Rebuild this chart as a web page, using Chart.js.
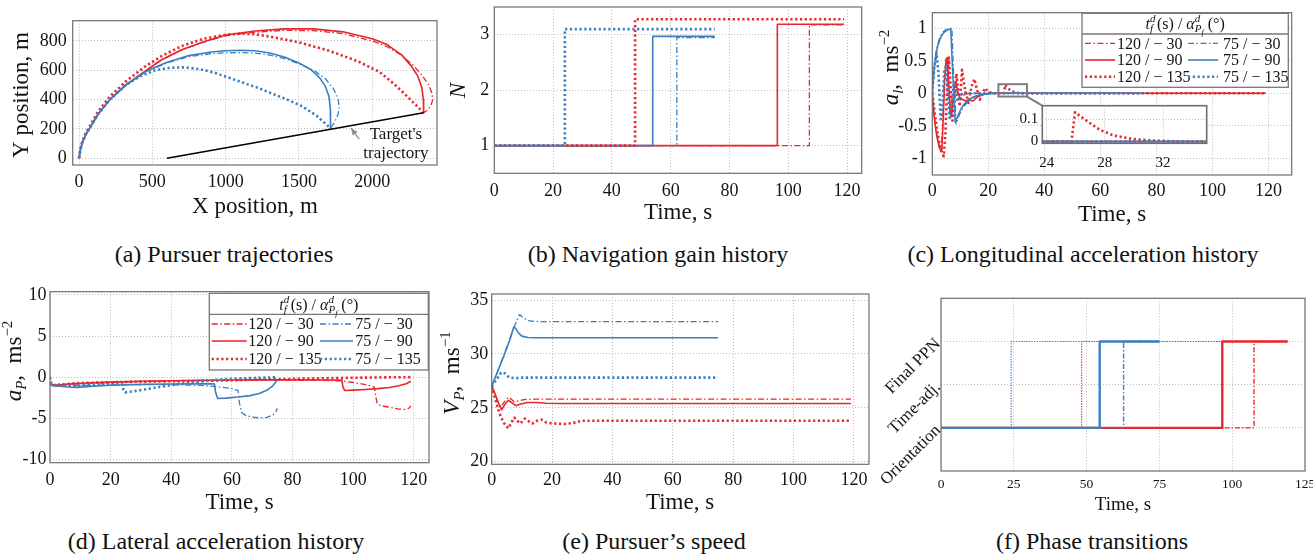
<!DOCTYPE html>
<html><head><meta charset="utf-8">
<script src="https://cdn.jsdelivr.net/npm/chart.js@4.4.1/dist/chart.umd.min.js"></script>
<style>
html,body{margin:0;padding:0;background:#fff;width:1313px;height:556px;overflow:hidden;position:relative;}
canvas{position:absolute;}
.cap{position:absolute;font-family:'Liberation Serif','Times New Roman',serif;font-size:24px;color:#111;white-space:nowrap;transform:translate(-50%,-50%);}
</style></head><body>
<div class="cap" style="left:224px;top:254px">(a) Pursuer trajectories</div>
<div class="cap" style="left:658px;top:254px">(b) Navigation gain history</div>
<div class="cap" style="left:1083px;top:254px">(c) Longitudinal acceleration history</div>
<div class="cap" style="left:216px;top:541px">(d) Lateral acceleration history</div>
<div class="cap" style="left:654px;top:541px">(e) Pursuer’s speed</div>
<div class="cap" style="left:1092px;top:541px">(f) Phase transitions</div>
<script>
// ---------------- labels ----------------
const LBL_R30 = '120 / − 30', LBL_R90 = '120 / − 90', LBL_R135 = '120 / − 135';
const LBL_B30 = '75 / − 30', LBL_B90 = '75 / − 90', LBL_B135 = '75 / − 135';
const PHASES = ['Orientation', 'Time-adj.', 'Final PPN'];

// ---------------- (a) trajectories ----------------
const trajXTicks = [0, 500, 1000, 1500, 2000];
const trajYTicks = [0, 200, 400, 600, 800];
const target = [[600, 0], [2350, 310]];
const trajR30 = [[0,0],[8,50],[20,100],[45,160],[70,200],[130,300],[210,400],[320,500],[460,600],[560,668],[700,738],[850,792],[1000,835],[1200,860],[1400,872],[1600,870],[1800,850],[2000,800],[2100,762],[2200,702],[2280,632],[2340,565],[2385,500],[2408,440],[2410,390],[2395,350],[2375,328],[2350,310]];
const trajR90 = [[0,0],[8,50],[20,100],[45,160],[70,200],[130,300],[210,400],[320,500],[460,600],[560,670],[700,740],[850,795],[1000,840],[1200,868],[1400,882],[1600,882],[1800,862],[2000,815],[2100,775],[2200,705],[2265,630],[2310,560],[2338,480],[2348,400],[2350,340],[2350,310]];
const trajR135 = [[0,0],[8,55],[20,105],[45,170],[70,212],[130,318],[210,420],[320,525],[450,625],[560,695],[700,765],[850,815],[1000,842],[1100,850],[1200,845],[1300,830],[1500,790],[1700,735],[1900,662],[2050,588],[2150,505],[2250,410],[2350,310]];
const trajB30 = [[0,0],[8,50],[20,100],[45,160],[70,200],[130,300],[210,400],[320,500],[460,593],[600,650],[750,693],[900,713],[1000,719],[1100,721],[1200,717],[1300,704],[1400,680],[1500,645],[1600,600],[1680,542],[1735,475],[1765,410],[1775,350],[1765,295],[1742,245],[1715,205]];
const trajB90 = [[0,0],[8,50],[20,100],[45,160],[70,200],[130,300],[210,400],[320,500],[460,595],[600,655],[750,700],[900,725],[1000,733],[1100,737],[1200,733],[1300,718],[1400,690],[1500,650],[1580,605],[1640,550],[1680,490],[1705,420],[1714,330],[1715,205]];
const trajB135 = [[0,0],[8,50],[20,100],[45,160],[70,200],[130,300],[210,400],[320,500],[420,560],[520,600],[620,617],[720,620],[820,608],[920,585],[1020,550],[1120,515],[1220,480],[1320,440],[1420,400],[1520,355],[1620,290],[1715,205]];

// ---------------- (b) navigation gain ----------------
const timeTicks = [0, 20, 40, 60, 80, 100, 120];
const gainTicks = [1, 2, 3];
const gainR30 = [[0,1],[107.2,1],[107.2,3.18],[119,3.18]];
const gainR90 = [[0,1],[96.3,1],[96.3,3.19],[119,3.19]];
const gainR135 = [[0,1],[47.9,1],[47.9,3.28],[119,3.28]];
const gainB30 = [[0,1],[62.1,1],[62.1,2.95],[75,2.95]];
const gainB90 = [[0,1],[53.9,1],[53.9,2.97],[75,2.97]];
const gainB135 = [[0,1],[24.0,1],[24.0,3.1],[75,3.1]];

// ---------------- (c) longitudinal acceleration ----------------
const alTicks = [-1, -0.5, 0, 0.5, 1];
const insetXTicks = [24, 28, 32];
const insetYTicks = [0, 0.1];
const alR30 = [[0,0],[0.5,-0.27],[1,-0.46],[1.5,-0.6],[2,-0.71],[2.5,-0.8],[3,-0.85],[3.3,-0.84],[3.8,-0.35],[4.3,0.2],[4.8,0.45],[5.2,0.48],[5.7,0.1],[6.3,-0.3],[6.8,-0.38],[7.3,-0.1],[7.9,0.1],[8.6,0.12],[9.3,-0.02],[10.2,-0.07],[11.5,-0.02],[13,0],[119,0]];
const alR90 = [[0,0],[0.5,-0.28],[1,-0.48],[1.5,-0.63],[2,-0.74],[2.5,-0.83],[3,-0.88],[3.4,-0.87],[3.9,-0.4],[4.4,0.2],[4.9,0.52],[5.3,0.55],[5.8,0.2],[6.3,-0.2],[6.8,-0.35],[7.3,-0.15],[7.9,0.12],[8.5,0.15],[9.2,0],[10,-0.08],[12,-0.12],[13,-0.1],[14.5,-0.12],[16,-0.06],[18,-0.02],[20,0],[119,0]];
const alR135 = [[0,0],[1,-0.35],[2,-0.65],[3,-0.87],[4.1,-0.97],[4.7,-0.6],[5.3,0.1],[5.9,0.55],[6.4,0.2],[7.2,-0.42],[7.8,-0.2],[8.6,0.3],[9.2,0.05],[9.8,-0.2],[10.6,0.36],[11.5,0.1],[12.9,-0.15],[14,0.1],[15,0.22],[16,0.05],[17,-0.1],[18,0],[18.8,0.08],[20,0.02],[22,0],[25.7,0],[25.95,0.13],[26.8,0.09],[27.66,0.052],[28.6,0.027],[29.9,0.011],[31.3,0.004],[33,0.001],[34,0],[119,0]];
const alB30 = [[0,0],[0.5,0.32],[1,0.53],[1.5,0.67],[2,0.77],[3,0.89],[4,0.95],[5,0.98],[6,0.995],[7,1.0],[7.6,0.3],[8.5,-0.47],[9.3,-0.37],[10.3,-0.27],[11.3,-0.2],[12.3,-0.15],[13.5,-0.1],[15,-0.06],[17,-0.03],[19,-0.013],[22,-0.003],[24,0],[75,0]];
const alB90 = [[0,0],[0.5,0.3],[1,0.5],[1.5,0.64],[2,0.74],[3,0.86],[4,0.93],[5,0.965],[6,0.985],[6.6,0.99],[7.3,0.3],[8.2,-0.45],[9,-0.36],[10,-0.26],[11,-0.19],[12,-0.14],[13,-0.1],[14.5,-0.06],[16,-0.035],[18,-0.017],[20,-0.007],[23,0],[75,0]];
const alB135 = [[0,0],[0.7,0.4],[1.5,0.62],[2.2,0.3],[3,-0.4],[3.6,-0.2],[4.3,0.35],[4.9,0.42],[5.6,-0.05],[6.2,-0.38],[6.9,-0.15],[7.6,0.12],[8.3,0.05],[9,-0.12],[10,-0.05],[11,0.02],[12.5,0],[75,0]];
const zoomBoxX = [23.6, 33.8], zoomBoxY = [-0.05, 0.14];

// ---------------- (d) lateral acceleration ----------------
const apTicks = [-10, -5, 0, 5, 10];
const apR30 = [[0,-0.6],[0.5,-0.95],[2,-1.0],[5,-0.9],[10,-0.78],[20,-0.62],[30,-0.52],[40,-0.45],[50,-0.4],[60,-0.37],[70,-0.36],[80,-0.37],[90,-0.4],[96,-0.45],[100,-0.65],[104,-0.9],[107,-1.2],[107.4,-2.3],[107.9,-3.2],[109,-3.45],[111,-3.6],[113,-3.75],[115,-3.88],[117,-3.92],[118.3,-3.8],[119,-3.5]];
const apR90 = [[0,-0.6],[0.5,-0.95],[2,-1.0],[5,-0.88],[10,-0.75],[20,-0.6],[30,-0.5],[40,-0.43],[50,-0.38],[60,-0.35],[70,-0.33],[80,-0.33],[90,-0.34],[96.3,-0.36],[96.6,-1.2],[97.2,-1.62],[100,-1.58],[104,-1.5],[108,-1.4],[112,-1.25],[115,-1.05],[117.5,-0.8],[119,-0.5]];
const apR135 = [[0,-0.6],[0.5,-0.95],[2,-0.95],[5,-0.85],[10,-0.72],[20,-0.62],[30,-0.55],[40,-0.5],[48,-0.47],[55,-0.42],[65,-0.33],[75,-0.25],[85,-0.17],[95,-0.1],[105,-0.05],[112,-0.02],[119,0]];
const apB30 = [[0,-0.6],[0.5,-1.0],[2,-1.05],[5,-1.05],[10,-1.02],[20,-0.95],[30,-0.9],[40,-0.92],[50,-1.0],[55,-1.15],[60,-1.4],[62,-1.6],[62.5,-3.2],[63.2,-4.3],[64.5,-4.65],[66.5,-4.85],[69,-4.95],[71.5,-4.9],[73.5,-4.6],[74.5,-4.2],[75,-3.8]];
const apB90 = [[0,-0.6],[0.5,-1.0],[3,-1.1],[6,-1.2],[9,-1.25],[12,-1.15],[20,-0.98],[30,-0.88],[40,-0.84],[50,-0.82],[54.2,-0.82],[54.6,-1.8],[55.3,-2.6],[58,-2.55],[62,-2.42],[66,-2.25],[69,-2.0],[71.5,-1.6],[73.5,-1.05],[75,-0.35]];
const apB135 = [[0,0],[0.4,-0.7],[1.5,-0.95],[4,-1.05],[8,-1.05],[12,-0.98],[18,-0.88],[23.8,-0.82],[24.2,-1.5],[24.8,-1.85],[28,-1.7],[32,-1.45],[36,-1.2],[40,-0.97],[45,-0.72],[50,-0.5],[55,-0.33],[60,-0.2],[65,-0.12],[70,-0.06],[75,-0.02]];

// ---------------- (e) pursuer speed ----------------
const vpTicks = [20, 25, 30, 35];
const vpR30 = [[0,27],[1,26.3],[2,25.6],[3,25.05],[4,25.5],[5.5,26.0],[6.5,25.8],[7.5,25.55],[9,25.65],[11,25.78],[14,25.8],[119,25.8]];
const vpR90 = [[0,27],[1,26.4],[2,25.6],[3.3,24.8],[4.3,25.3],[5.5,25.7],[6.5,25.5],[8,25.2],[9.5,25.35],[12,25.5],[15,25.5],[18,25.42],[22,25.4],[119,25.4]];
const vpR135 = [[0,27],[1,26.0],[2,25.0],[3,24.2],[4,23.6],[5.5,23.1],[6.5,23.6],[7.5,24.1],[8.5,23.8],[9.5,23.55],[11,24.0],[12.5,23.7],[13.5,23.55],[15,23.8],[16.5,23.9],[18,23.65],[20,23.55],[24,23.5],[27,23.6],[30,23.8],[119,23.8]];
const vpB30 = [[0,27],[2,28.4],[4,29.9],[6,31.4],[8,32.9],[9.2,33.65],[10.5,33.35],[12,33.1],[14,33.02],[17,33.0],[75,33.0]];
const vpB90 = [[0,27],[2,28.4],[4,29.8],[6,31.3],[7.3,32.5],[8,32.35],[9,31.9],[10,31.65],[12,31.52],[15,31.5],[75,31.5]];
const vpB135 = [[0,27],[1.5,27.6],[3,28.2],[4,28.3],[5,28.0],[6,27.8],[8,27.75],[10,27.8],[75,27.8]];

// ---------------- (f) phase transitions ----------------
const phaseXTicks = [0, 25, 50, 75, 100, 125];
const phaseYTicks = [1, 2, 3];
const phR30 = [[0,1],[107.5,1],[107.5,3],[119,3]];
const phR90 = [[0,1],[96.6,1],[96.6,3],[119,3]];
const phR135 = [[0,1],[48.3,1],[48.3,3],[119,3]];
const phB30 = [[0,1],[62.7,1],[62.7,3],[75,3]];
const phB90 = [[0,1],[54.5,1],[54.5,3],[75,3]];
const phB135 = [[0,1],[24.1,1],[24.1,3],[75,3]];

// ================= rendering =================
const SERIF = "'Liberation Serif','Times New Roman',serif";
const RED = '#e8262b', BLUE = '#3b7fc0', GRID = '#bdbdbd', FRAME = '#6e6e6e', INK = '#141414';
const STY = { dd:{dash:[6,2.5,1.5,2.5], w:1.3}, so:{dash:[], w:1.6}, dt:{dash:[2.2,2.6], w:2.6} };
const STY_F = { dd:{dash:[5,2,1.5,2], w:1.4}, so:{dash:[], w:2.4}, dt:{dash:[1.3,1.3], w:1.2} };

function mk(label, data, color, st) {
  return {label, data, borderColor:color, backgroundColor:color, borderWidth:st.w, borderDash:st.dash,
    borderCapStyle:'butt', borderJoinStyle:'round', pointRadius:0, pointHoverRadius:0, pointHitRadius:0,
    fill:false, tension:0, showLine:true};
}
function six(d, order, S) {
  const defs = {R30:[LBL_R30,RED,S.dd], R90:[LBL_R90,RED,S.so], R135:[LBL_R135,RED,S.dt],
                B30:[LBL_B30,BLUE,S.dd], B90:[LBL_B90,BLUE,S.so], B135:[LBL_B135,BLUE,S.dt]};
  return order.map(k => mk(defs[k][0], d[k], defs[k][1], defs[k][2]));
}
function axis(min, max, ticks, size, pad, extra) {
  const o = {
    type:'linear', min, max,
    afterBuildTicks: s => { s.ticks = ticks.map(v => ({value:v})); },
    grid:{color:GRID, lineWidth:1, drawTicks:false},
    border:{display:false, dash:[1,2]},
    ticks:{color:INK, font:{family:SERIF, size}, padding:pad, autoSkip:false, maxRotation:0, minRotation:0,
           callback: v => String(v)}
  };
  if (extra) { Object.assign(o.ticks, extra); }
  return o;
}
function fontOf(s) { return (s.it ? 'italic ' : '') + s.sz + 'px ' + SERIF; }
function drawRich(c, segs, x, y, rot) {
  c.save(); c.translate(x, y); c.rotate(rot || 0);
  let w = 0;
  segs.forEach(s => { c.font = fontOf(s); if (!s.back) w += c.measureText(s.t).width; });
  let cx = -w / 2;
  c.fillStyle = INK; c.textBaseline = 'alphabetic'; c.textAlign = 'left';
  const base = segs[0].sz * 0.33;
  segs.forEach(s => { c.font = fontOf(s); c.fillText(s.t, cx, base + (s.dy || 0)); if (!s.back) cx += c.measureText(s.t).width; });
  c.restore();
}
const HDR = [{t:'t',it:1,sz:16},{t:'d',it:1,sz:11,dy:-7,back:1},{t:'f',it:1,sz:11,dy:3},{t:' (s) / ',sz:16},
             {t:'α',it:1,sz:16},{t:'d',it:1,sz:11,dy:-7,back:1},{t:'P',it:1,sz:11,dy:3},{t:'f',it:1,sz:8,dy:6},{t:' (°)',sz:16}];
function drawLegend(chart, L) {
  const c = chart.ctx, a = chart.chartArea;
  const x0 = a.right - L.dr - L.w, y0 = a.top + L.dt;
  c.save();
  c.fillStyle = '#fff'; c.fillRect(x0, y0, L.w, L.h);
  c.strokeStyle = '#777'; c.lineWidth = 1.3; c.setLineDash([]); c.strokeRect(x0, y0, L.w, L.h);
  c.beginPath(); c.moveTo(x0, y0 + L.hh); c.lineTo(x0 + L.w, y0 + L.hh); c.stroke();
  drawRich(c, HDR, x0 + L.w / 2, y0 + L.hy, 0);
  L.cols.forEach(col => {
    col.keys.forEach((lbl, ri) => {
      const d = chart.data.datasets.find(q => q.label === lbl);
      const y = y0 + L.rows[ri];
      c.strokeStyle = d.borderColor; c.lineWidth = d.borderWidth; c.setLineDash(d.borderDash);
      c.beginPath(); c.moveTo(x0 + col.l0, y); c.lineTo(x0 + col.l1, y); c.stroke();
      c.setLineDash([]);
      c.fillStyle = INK; c.font = L.fs + 'px ' + SERIF; c.textAlign = 'left'; c.textBaseline = 'middle';
      c.fillText(lbl, x0 + col.tx, y + 1);
    });
  });
  c.restore();
}
const decoPlugin = {
  id:'deco',
  beforeDraw(chart, args, o) {
    if (o.white) { const a = chart.chartArea, c = chart.ctx; c.save(); c.fillStyle = '#fff';
      c.fillRect(a.left, a.top, a.right - a.left, a.bottom - a.top); c.restore(); }
  },
  afterDatasetsDraw(chart, args, o) { if (o.annot) { chart.ctx.save(); o.annot(chart, chart.ctx); chart.ctx.restore(); } },
  afterDraw(chart, args, o) {
    const c = chart.ctx, a = chart.chartArea;
    c.save(); c.strokeStyle = FRAME; c.lineWidth = o.frameW || 1.2; c.setLineDash([]);
    c.strokeRect(a.left, a.top, a.right - a.left, a.bottom - a.top); c.restore();
    if (o.legend) drawLegend(chart, o.legend);
    (o.titles || []).forEach(t => drawRich(c, t.segs, t.x - o.ox, t.y - o.oy, t.rot || 0));
  }
};
Chart.register(decoPlugin);

function panel(area, bx, bb, xs, ys, datasets, deco) {
  const by = Math.floor(area.t) - 30;
  const bw = Math.ceil(area.r) + 30 - bx;
  const bh = bb - by;
  const cv = document.createElement('canvas');
  cv.width = bw; cv.height = bh;
  cv.style.left = bx + 'px'; cv.style.top = by + 'px'; cv.style.width = bw + 'px'; cv.style.height = bh + 'px';
  document.body.appendChild(cv);
  xs.afterFit = s => { s.height = bb - area.b; };
  ys.afterFit = s => { s.width = area.l - bx; };
  deco.ox = bx; deco.oy = by;
  return new Chart(cv, {type:'scatter', data:{datasets},
    options:{responsive:false, animation:false, devicePixelRatio:1, events:[],
      layout:{padding:{left:0, top:area.t - by, right:bx + bw - area.r, bottom:0}},
      plugins:{legend:{display:false}, tooltip:{enabled:false}, deco},
      scales:{x:xs, y:ys}}});
}

const T_TIME = [{t:'Time, s', sz:23}];
const ROT = -Math.PI / 2;
const LEG_COLS = (a, b) => [{l0:a[0], l1:a[1], tx:a[2], keys:[LBL_R30, LBL_R90, LBL_R135]},
                            {l0:b[0], l1:b[1], tx:b[2], keys:[LBL_B30, LBL_B90, LBL_B135]}];
const ORDER = ['B135','B90','B30','R135','R90','R30'];

// (a)
const areaA = {l:72.7, t:20.7, r:437, b:165};
panel(areaA, 0, 230,
  axis(-43, 2441, trajXTicks, 18, 6.9), axis(-46, 938, trajYTicks, 18, 6),
  [mk("Target", target, '#000', {dash:[], w:1.6})].concat(six({R30:trajR30,R90:trajR90,R135:trajR135,B30:trajB30,B90:trajB90,B135:trajB135}, ORDER, STY)),
  {titles:[{segs:[{t:'X position, m',sz:23}], x:255, y:205.7}, {segs:[{t:'Y position, m',sz:23}], x:20.7, y:95, rot:ROT}],
   annot:(chart, c) => {
     const X = chart.scales.x, Y = chart.scales.y;
     const tx = X.getPixelForValue(1910), ty = Y.getPixelForValue(130);
     const hx = X.getPixelForValue(1855), hy = Y.getPixelForValue(205);
     c.strokeStyle = '#8c8c8c'; c.fillStyle = '#8c8c8c'; c.lineWidth = 1.2; c.setLineDash([]);
     c.beginPath(); c.moveTo(tx, ty); c.lineTo(hx, hy); c.stroke();
     const ang = Math.atan2(hy - ty, hx - tx), L = 7, wd = 3;
     c.beginPath(); c.moveTo(hx, hy);
     c.lineTo(hx - L * Math.cos(ang) + wd * Math.sin(ang), hy - L * Math.sin(ang) - wd * Math.cos(ang));
     c.lineTo(hx - L * Math.cos(ang) - wd * Math.sin(ang), hy - L * Math.sin(ang) + wd * Math.cos(ang));
     c.closePath(); c.fill();
     c.fillStyle = INK; c.font = '17px ' + SERIF; c.textAlign = 'center'; c.textBaseline = 'middle';
     c.fillText("Target's", X.getPixelForValue(2161), Y.getPixelForValue(159));
     c.fillText('trajectory', X.getPixelForValue(2161), Y.getPixelForValue(29));
   }});

// (b)
const areaB = {l:494.3, t:7, r:861.7, b:173.3};
panel(areaB, 440, 230,
  axis(0, 125, timeTicks, 18, 7.6), axis(0.5, 3.5, gainTicks, 18, 5),
  six({R30:gainR30,R90:gainR90,R135:gainR135,B30:gainB30,B90:gainB90,B135:gainB135}, ['B135','R135','B90','B30','R90','R30'], STY),
  {titles:[{segs:T_TIME, x:678, y:211.7}, {segs:[{t:'N',it:1,sz:23}], x:457.3, y:90.7, rot:ROT}]});

// (c)
const areaC = {l:932.3, t:12.7, r:1291.7, b:175};
const areaIn = {l:1042.3, t:105.7, r:1206.7, b:143.3};
const alSets = {R30:alR30,R90:alR90,R135:alR135,B30:alB30,B90:alB90,B135:alB135};
panel(areaC, 870, 230,
  axis(0, 128.3, timeTicks, 18, 5.9), axis(-1.257, 1.24, alTicks, 18, 5.6),
  six(alSets, ORDER, STY),
  {titles:[{segs:T_TIME, x:1112, y:213.3},
           {segs:[{t:'a',it:1,sz:23},{t:'l',it:1,sz:15,dy:5},{t:',  ms',sz:23},{t:'−2',sz:15,dy:-9}], x:890, y:67.5, rot:ROT}],
   legend:{dr:3.4, dt:0.6, w:206.3, h:74, hh:20.7, hy:10.5, rows:[30, 46.7, 63.4], fs:16,
           cols:LEG_COLS([3,33,35],[106,136,141])},
   annot:(chart, c) => {
     const X = chart.scales.x, Y = chart.scales.y;
     const l = X.getPixelForValue(zoomBoxX[0]), r = X.getPixelForValue(zoomBoxX[1]);
     const t = Y.getPixelForValue(zoomBoxY[1]), b = Y.getPixelForValue(zoomBoxY[0]);
     const ox = parseFloat(chart.canvas.style.left), oy = parseFloat(chart.canvas.style.top);
     c.strokeStyle = '#7d7d7d'; c.lineWidth = 2; c.setLineDash([]);
     c.strokeRect(l, t, r - l, b - t);
     c.beginPath(); c.moveTo(r, b); c.lineTo(areaIn.l - ox, areaIn.t - oy); c.stroke();
   }});
// inset
panel(areaIn, 1000, 172,
  axis(23.7, 35, insetXTicks, 15, 11), axis(-0.008, 0.16, insetYTicks, 15, 4),
  six(alSets, ORDER, STY),
  {white:true, frameW:1.6});

// (d)
const areaD = {l:50, t:291.7, r:429, b:462.7};
panel(areaD, 0, 520,
  axis(0, 125, timeTicks, 18, 6.5), axis(-10.41, 10.4, apTicks, 18, 3.5),
  six({R30:apR30,R90:apR90,R135:apR135,B30:apB30,B90:apB90,B135:apB135}, ORDER, STY),
  {titles:[{segs:T_TIME, x:239.5, y:501.7},
           {segs:[{t:'a',it:1,sz:23},{t:'P',it:1,sz:15,dy:5},{t:',  ms',sz:23},{t:'−2',sz:15,dy:-9}], x:13.3, y:361, rot:ROT}],
   legend:{dr:0.7, dt:1.6, w:219, h:76.7, hh:21, hy:11, rows:[30.7, 47.7, 65.7], fs:16,
           cols:LEG_COLS([2.4,37.4,39],[110.7,143.7,146])}});

// (e)
const areaE = {l:491.7, t:294, r:869, b:464.3};
panel(areaE, 440, 520,
  axis(0, 125, timeTicks, 18, 4.9), axis(19.76, 35.56, vpTicks, 18, 3.5),
  six({R30:vpR30,R90:vpR90,R135:vpR135,B30:vpB30,B90:vpB90,B135:vpB135}, ORDER, STY),
  {titles:[{segs:T_TIME, x:680, y:501.7},
           {segs:[{t:'V',it:1,sz:23},{t:'P',it:1,sz:15,dy:5},{t:',  ms',sz:23},{t:'−1',sz:15,dy:-9}], x:451.7, y:373, rot:ROT}]});

// (f)
const areaF = {l:941, t:298.3, r:1305, b:471};
const yF = axis(0, 4, phaseYTicks, 17, 3, {minRotation:45, maxRotation:45, callback: v => PHASES[v - 1]});
panel(areaF, 870, 520,
  axis(0, 125, phaseXTicks, 13.5, 4.9), yF,
  six({R30:phR30,R90:phR90,R135:phR135,B30:phB30,B90:phB90,B135:phB135}, ['B90','B30','R90','R30','B135','R135'], STY_F),
  {titles:[{segs:[{t:'Time, s',sz:19}], x:1123, y:503.3}]});
</script>
</body></html>
